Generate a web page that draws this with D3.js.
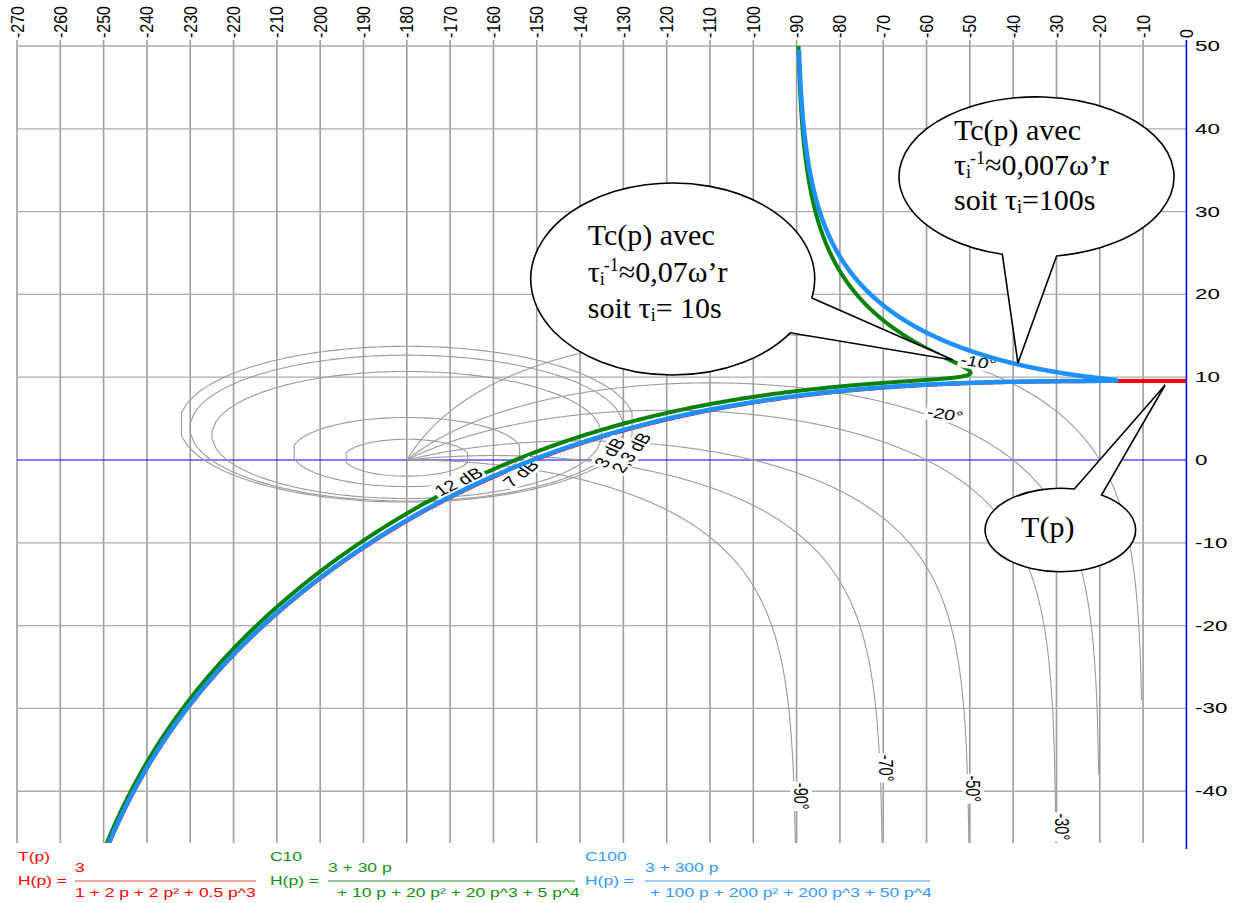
<!DOCTYPE html>
<html>
<head>
<meta charset="utf-8">
<script src="https://cdn.jsdelivr.net/npm/d3@7"></script>
<style>
  body { margin: 0; background: #fff; }
  svg { display: block; }
</style>
</head>
<body>
<svg id="chart" width="1233" height="903"></svg>
<script>
// Open-loop transfer functions, coefficients in ascending powers of p
const tNum = [3];
const tDen = [1, 2, 2, 0.5];
const c10Num = [3, 30];
const c10Den = [0, 10, 20, 20, 5];
const c100Num = [3, 300];
const c100Den = [0, 100, 200, 200, 50];
const omegaRange = [1e-4, 1e2];

// Axes
const phaseTicks = d3.range(-270, 1, 10);
const gainTicks = d3.range(-40, 51, 10);

// Nichols grid: closed-loop gain contours (dB) and closed-loop phase contours (deg)
const gainContours = [12, 7, 3, 2.3, 2];
const gainLabels = ["12 dB", "7 dB", "3 dB", "2,3 dB"];
const phaseContours = [-10, -20, -30, -50, -70, -90];
const phaseContourFloor = [-29, -38, -60, -60, -60, -60];
const phaseLabels = ["-10°", "-20°", "-30°", "-50°", "-70°", "-90°"];

// Legend content
const seriesNames = ["T(p)", "C10", "C100"];
const legendNum = ["3", "3 + 30 p", "3 + 300 p"];
const legendDen = ["1 + 2 p + 2 p² + 0.5 p^3", "+ 10 p + 20 p² + 20 p^3 + 5 p^4", "+ 100 p + 200 p² + 200 p^3 + 50 p^4"];

// ---------------------------------------------------------------------------
const svg = d3.select("#chart");
const x = d3.scaleLinear().domain([-270, 0]).range([17, 1186.4]);
const y = d3.scaleLinear().domain([50, -46.25]).range([46, 843]);
const RAD = Math.PI / 180;

svg.append("defs").append("clipPath").attr("id", "plot-clip")
  .append("rect").attr("x", x(-270)).attr("y", y(50))
  .attr("width", x(0) - x(-270)).attr("height", y(-46.25) - y(50));

// --- grid ---
const grid = svg.append("g");
grid.selectAll(".vline").data(phaseTicks.filter(d => d !== 0)).join("line")
  .attr("x1", d => x(d)).attr("x2", d => x(d))
  .attr("y1", y(50) - 6).attr("y2", y(-46.25))
  .attr("stroke", "#9d9d9d").attr("stroke-width", 1.6);
grid.selectAll(".hline").data(gainTicks.filter(d => d !== 0)).join("line")
  .attr("x1", x(-270)).attr("x2", x(0))
  .attr("y1", d => y(d)).attr("y2", d => y(d))
  .attr("stroke", "#ababab").attr("stroke-width", 1.3);
grid.append("line").attr("x1", x(-270)).attr("x2", x(0))
  .attr("y1", y(0)).attr("y2", y(0)).attr("stroke", "#0000ff").attr("stroke-width", 1);

// --- Nichols contours ---
const contours = svg.append("g").attr("clip-path", "url(#plot-clip)")
  .attr("fill", "none").attr("stroke", "#9a9a9a").attr("stroke-width", 1.1);
const line = d3.line().x(d => x(d[0])).y(d => y(d[1]));

gainContours.forEach(g => {
  const k = Math.pow(10, g / 10);          // |T|^2
  const upper = [], lower = [];
  for (let ph = -359; ph <= -1; ph += 1) {
    const c = Math.cos(ph * RAD);
    const disc = k * k * c * c - k * (k - 1);
    if (c < 0 && disc >= 0) {
      const s = Math.sqrt(disc);
      upper.push([ph, 20 * Math.log10((-k * c + s) / (k - 1))]);
      lower.push([ph, 20 * Math.log10((-k * c - s) / (k - 1))]);
    }
  }
  contours.append("path").attr("d", line(upper.concat(lower.reverse())) + "Z");
});

phaseContours.forEach((psi, i) => {
  const mEnd = Math.pow(10, phaseContourFloor[i] / 20);
  const phEnd = psi + Math.asin(mEnd * Math.sin(psi * RAD)) / RAD;
  const pts = d3.range(-180, phEnd, 0.25).concat([phEnd]).map(ph => {
    const m = Math.sin((ph - psi) * RAD) / Math.sin(psi * RAD);
    return [ph, 20 * Math.log10(Math.max(m, 1e-9))];
  });
  contours.append("path").attr("d", line(pts));
});

// --- frequency responses ---
function polyAt(c, w) {
  let re = 0, im = 0, pw = 1;
  for (let k = 0; k < c.length; k++) {
    const v = c[k] * pw;
    if (k % 4 === 0) re += v; else if (k % 4 === 1) im += v;
    else if (k % 4 === 2) re -= v; else im -= v;
    pw *= w;
  }
  return [re, im];
}
function nichols(num, den) {
  const n = 3000, pts = [];
  let prev = null;
  for (let i = 0; i <= n; i++) {
    const w = omegaRange[0] * Math.pow(omegaRange[1] / omegaRange[0], i / n);
    const [nr, ni] = polyAt(num, w), [dr, di] = polyAt(den, w);
    const mag = Math.hypot(nr, ni) / Math.hypot(dr, di);
    let ph = (Math.atan2(ni, nr) - Math.atan2(di, dr)) / RAD;
    if (prev === null) { while (ph > 0) ph -= 360; while (ph <= -360) ph += 360; }
    else { while (ph - prev > 180) ph -= 360; while (ph - prev < -180) ph += 360; }
    prev = ph;
    pts.push([ph, 20 * Math.log10(mag)]);
  }
  return pts;
}
const curves = svg.append("g").attr("clip-path", "url(#plot-clip)")
  .attr("fill", "none").attr("stroke-linejoin", "round");

curves.append("path").attr("d", line(nichols(c10Num, c10Den)))
  .attr("stroke", "#0b820b").attr("stroke-width", 4);

// --- contour labels (boxed, white background) ---
function boxedLabel(parent, px, py, angle, text, size, sx) {
  const g = parent.append("g")
    .attr("transform", `translate(${px},${py}) scale(${sx},1) rotate(${angle})`);
  const r = g.append("rect").attr("fill", "#fff");
  const t = g.append("text").attr("text-anchor", "middle").attr("dy", "0.36em")
    .style("font-family", "'Liberation Sans', Arial, sans-serif")
    .style("font-size", size + "px").attr("fill", "#000").text(text);
  const bb = t.node().getBBox();
  r.attr("x", bb.x - 1.5).attr("y", bb.y + 0.5).attr("width", bb.width + 3).attr("height", bb.height - 1);
}
const labelLayer = svg.append("g");
const gainLabelPlace = [[-168.1, -2.6, -33], [-153.7, -1.6, -47], [-133.2, 0.9, -60], [-128.2, 0.9, -60]];
gainLabels.forEach((s, i) => {
  const [ph, db, a] = gainLabelPlace[i];
  boxedLabel(labelLayer, x(ph), y(db), a, s, 15, 1.35);
});
const phaseLabelPlace = [[-48.0, 11.85, 12], [-55.7, 5.55, 12], [-28.6, -44.3, 90],
                         [-49.2, -39.7, 90], [-69.3, -37.2, 90], [-88.9, -40.6, 90]];
phaseLabels.forEach((s, i) => {
  const [ph, db, a] = phaseLabelPlace[i];
  boxedLabel(labelLayer, x(ph), y(db), a, s, 14.5, 1.35);
});

curves.append("path").attr("d", line(nichols(tNum, tDen)))
  .attr("stroke", "#ff0000").attr("stroke-width", 4);
svg.append("g").attr("clip-path", "url(#plot-clip)").append("path")
  .attr("d", line(nichols(c100Num, c100Den)))
  .attr("fill", "none").attr("stroke-linejoin", "round")
  .attr("stroke", "#1e90ff").attr("stroke-width", 4.5);

// right axis (blue)
svg.append("line").attr("x1", x(0)).attr("x2", x(0)).attr("y1", y(50) - 6).attr("y2", 849)
  .attr("stroke", "#0000ff").attr("stroke-width", 1.6);

// --- callout bubbles ---
const bubbles = [
  { c: [-118.6, 21.86], rx: 142, ry: 96, a0: 11.4, a1: 34.1, tip: [-53.9, 12.08], tx: -85,
    lines: [[["Tc(p) avec"]], [["τ"], ["i", "sub"], ["-1", "sup"], ["≈0,07ω’r"]], [["soit τ"], ["i", "sub"], ["= 10s"]]],
    dy: [-34.5, 3, 39.3] },
  { c: [-34.6, 34.2], rx: 137.5, ry: 80, a0: 81.6, a1: 104.4, tip: [-38.9, 11.7], tx: -82.5,
    lines: [[["Tc(p) avec"]], [["τ"], ["i", "sub"], ["-1", "sup"], ["≈0,007ω’r"]], [["soit τ"], ["i", "sub"], ["=100s"]]],
    dy: [-37, -2, 33.5] },
  { c: [-29.1, -8.45], rx: 75.3, ry: 41.7, a0: -79.3, a1: -56.9, tip: [-4.9, 9.06], tx: -39.3,
    lines: [[["T(p)"]]], dy: [6.7] }
];
const bubbleLayer = svg.append("g");
bubbles.forEach(b => {
  const cx = x(b.c[0]), cy = y(b.c[1]);
  const P = a => [cx + b.rx * Math.cos(a * RAD), cy + b.ry * Math.sin(a * RAD)];
  const A = P(b.a0), B = P(b.a1);
  const d = `M${A[0]},${A[1]} A${b.rx},${b.ry} 0 1 0 ${B[0]},${B[1]} L${x(b.tip[0])},${y(b.tip[1])} Z`;
  bubbleLayer.append("path").attr("d", d).attr("fill", "#fff")
    .attr("stroke", "#000").attr("stroke-width", 1.6).attr("stroke-linejoin", "miter");
  b.lines.forEach((segs, li) => {
    const t = bubbleLayer.append("text").attr("x", cx + b.tx).attr("y", cy + b.dy[li])
      .style("font-family", "'Liberation Serif', 'Times New Roman', serif")
      .style("font-size", "30px").attr("fill", "#000");
    let shift = 0;
    segs.forEach(([s, kind]) => {
      const target = kind === "sub" ? 3 : kind === "sup" ? -11 : 0;
      const ts = t.append("tspan").attr("dy", target - shift).text(s);
      if (kind) ts.style("font-size", "18px");
      if (kind === "sup") ts.attr("dx", -1);
      shift = target;
    });
  });
});

// --- axis labels ---
const labelFont = "'Liberation Sans', Arial, sans-serif";
phaseTicks.forEach(t => {
  svg.append("text")
    .attr("transform", `translate(${x(t) + 6.5},38) scale(1.15,1) rotate(-90)`)
    .style("font-family", labelFont).style("font-size", "16px").attr("fill", "#000")
    .text(String(t));
});
gainTicks.forEach(t => {
  svg.append("text")
    .attr("transform", `translate(1195,${y(t)}) scale(1.6,1)`)
    .attr("dy", "0.36em")
    .style("font-family", labelFont).style("font-size", "14px").attr("fill", "#000")
    .text(String(t));
});

// --- legend (transfer functions) ---
const legendColors = ["#ff0000", "#119011", "#3399ff"];
const legendBars = ["#f4a3a3", "#98c898", "#99ccff"];
const legendX = [18, 270, 585];
const legendFx = [75, 328, 645];
const legendDx = [75, 337, 650];
const legendBarEnd = [256, 575, 930];
const legend = svg.append("g").style("font-family", labelFont).style("font-size", "12.5px");
const stretched = (s, px, py, color) => legend.append("text")
  .attr("transform", `translate(${px},${py}) scale(1.4,1)`).attr("fill", color).text(s);
seriesNames.forEach((name, i) => {
  stretched(name, legendX[i], 861, legendColors[i]);
  stretched("H(p) =", legendX[i], 885, legendColors[i]);
  stretched(legendNum[i], legendFx[i], 872, legendColors[i]);
  legend.append("line").attr("x1", legendFx[i]).attr("x2", legendBarEnd[i])
    .attr("y1", 881).attr("y2", 881).attr("stroke", legendBars[i]).attr("stroke-width", 2);
  stretched(legendDen[i], legendDx[i], 897, legendColors[i]);
});
</script>
</body>
</html>
